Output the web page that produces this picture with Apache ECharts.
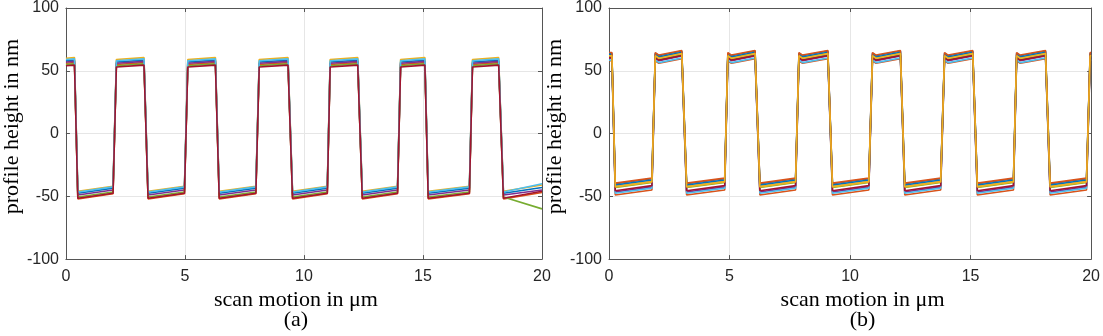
<!DOCTYPE html>
<html>
<head>
<meta charset="utf-8">
<script src="https://cdn.jsdelivr.net/npm/echarts/dist/echarts.min.js"></script>
<style>
  html, body { margin: 0; padding: 0; background: #fff; }
  #chart { width: 1103px; height: 336px; }
</style>
</head>
<body>
<div id="chart"></div>
<script>
// MATLAB default line colours
const matlabColors = ['#0072BD', '#D95319', '#EDB120', '#7E2F8E', '#77AC30', '#4DBEEE', '#A2142F'];

// panel (a): mean profile, [x in um, height in nm, 'h' top / 'l' bottom]
const profileA = [
  [0, 57, 'h'], [0.36, 57.5, 'h'], [0.5, -49, 'l'], [1.98, -45, 'l'],
  [2.12, 56, 'h'], [3.28, 57.5, 'h'], [3.45, -49, 'l'], [4.98, -45, 'l'],
  [5.12, 56, 'h'], [6.28, 57.5, 'h'], [6.44, -49, 'l'], [7.98, -45, 'l'],
  [8.12, 56, 'h'], [9.33, 57.5, 'h'], [9.52, -49, 'l'], [10.98, -45, 'l'],
  [11.1, 56, 'h'], [12.26, 57.5, 'h'], [12.45, -49, 'l'], [13.93, -45, 'l'],
  [14.06, 56, 'h'], [15.08, 57.5, 'h'], [15.22, -49, 'l'], [16.95, -45, 'l'],
  [17.08, 56, 'h'], [18.18, 57.5, 'h'], [18.38, -49, 'l'], [20, -45, 'l']
];
// spread of each scan around the mean profile (nm), one entry per line
const hiOffsetA = [1, -1, 3, 0, -2, 2, -3];
const loOffsetA = [1.5, -3, 3, 0, -1.5, 2.5, -2.5];
// value each scan reaches at x = 20 um
const tailA = [-43, -47, -41, -45, -60, -40, -46];

// panel (b)
const profileB = [
  [0, 61, 'h'], [0.12, 61, 'h'], [0.26, -44, 'l'], [1.78, -40, 'l'],
  [1.92, 61, 'h'], [2.07, 59, 'h'], [3.02, 62.7, 'h'], [3.22, -44, 'l'], [4.8, -40, 'l'],
  [4.93, 61, 'h'], [5.08, 59, 'h'], [6.06, 62.7, 'h'], [6.26, -44, 'l'], [7.74, -40, 'l'],
  [7.88, 61, 'h'], [8.03, 59, 'h'], [9.08, 62.7, 'h'], [9.27, -44, 'l'], [10.78, -40, 'l'],
  [10.93, 61, 'h'], [11.08, 59, 'h'], [12.09, 62.7, 'h'], [12.27, -44, 'l'], [13.76, -40, 'l'],
  [13.92, 61, 'h'], [14.07, 59, 'h'], [15.09, 62.7, 'h'], [15.28, -44, 'l'], [16.78, -40, 'l'],
  [16.91, 61, 'h'], [17.06, 59, 'h'], [18.11, 62.7, 'h'], [18.3, -44, 'l'], [19.81, -40, 'l'],
  [19.96, 61, 'h'], [20, 61, 'h']
];
const hiOffsetB = [3, -3, 1.5, -1, 0, -2.5, -0.5, 2, 3.5, 1];
const loOffsetB = [4, -5, 2, -2.5, 1, -3.5, -1.5, 3, 4.5, 1.5];

function scanSeries(profile, hi, lo, tail, xi, yi) {
  return hi.map((h, i) => ({
    type: 'line',
    xAxisIndex: xi,
    yAxisIndex: yi,
    showSymbol: false,
    silent: true,
    color: matlabColors[i % matlabColors.length],
    lineStyle: { width: 1.6 },
    data: profile.map((p, k) => {
      if (tail && k === profile.length - 1) return [p[0], tail[i]];
      return [p[0], p[1] + (p[2] === 'h' ? h : lo[i])];
    })
  }));
}

const boxColor = '#555';
const tickFont = { fontFamily: 'Liberation Sans', fontSize: 16, color: '#262626' };
const nameFont = { fontFamily: 'Liberation Serif', fontSize: 22, color: '#000' };

function bottomX(grid, name, pad) {
  return {
    gridIndex: grid, type: 'value', min: 0, max: 20, interval: 5,
    name: name, nameLocation: 'middle', nameGap: 27,
    nameTextStyle: Object.assign({ lineHeight: 20, padding: pad }, nameFont),
    axisLine: { show: true, onZero: false, lineStyle: { color: boxColor } },
    axisTick: { inside: true, length: 4, lineStyle: { color: boxColor } },
    axisLabel: Object.assign({ margin: 9 }, tickFont),
    splitLine: { show: true, lineStyle: { color: '#e6e6e6' } }
  };
}
function topX(grid) {
  return {
    gridIndex: grid, type: 'value', position: 'top', min: 0, max: 20, interval: 5,
    axisLine: { show: true, onZero: false, lineStyle: { color: boxColor } },
    axisTick: { inside: true, length: 4, lineStyle: { color: boxColor } },
    axisLabel: { show: false }, splitLine: { show: false }
  };
}
function leftY(grid) {
  return {
    gridIndex: grid, type: 'value', min: -100, max: 100, interval: 50,
    name: 'profile height in nm', nameLocation: 'middle', nameGap: 40,
    nameTextStyle: Object.assign({ padding: [0, 0, 0, 14] }, nameFont),
    axisLine: { show: true, onZero: false, lineStyle: { color: boxColor } },
    axisTick: { show: true, inside: true, length: 4, lineStyle: { color: boxColor } },
    axisLabel: Object.assign({ margin: 7 }, tickFont),
    splitLine: { show: true, lineStyle: { color: '#e6e6e6' } }
  };
}
function rightY(grid) {
  return {
    gridIndex: grid, type: 'value', position: 'right', min: -100, max: 100, interval: 50,
    axisLine: { show: true, onZero: false, lineStyle: { color: boxColor } },
    axisTick: { show: true, inside: true, length: 4, lineStyle: { color: boxColor } },
    axisLabel: { show: false }, splitLine: { show: false }
  };
}

const option = {
  animation: false,
  backgroundColor: '#fff',
  grid: [
    { left: 64, top: 7, width: 478, height: 261 },
    { left: 609, top: 7, width: 483, height: 261 }
  ],
  xAxis: [
    bottomX(0, 'scan motion in \u03bcm\n(a)', [0, 16, 0, 0]), topX(0),
    bottomX(1, 'scan motion in \u03bcm\n(b)', [0, 0, 0, 25]), topX(1)
  ],
  yAxis: [leftY(0), rightY(0), leftY(1), rightY(1)],
  series: scanSeries(profileA, hiOffsetA, loOffsetA, tailA, 0, 0)
    .concat(scanSeries(profileB, hiOffsetB, loOffsetB, null, 2, 2))
};

const chart = echarts.init(document.getElementById('chart'), null, { renderer: 'canvas', devicePixelRatio: 1 });
chart.setOption(option);
</script>
</body>
</html>
